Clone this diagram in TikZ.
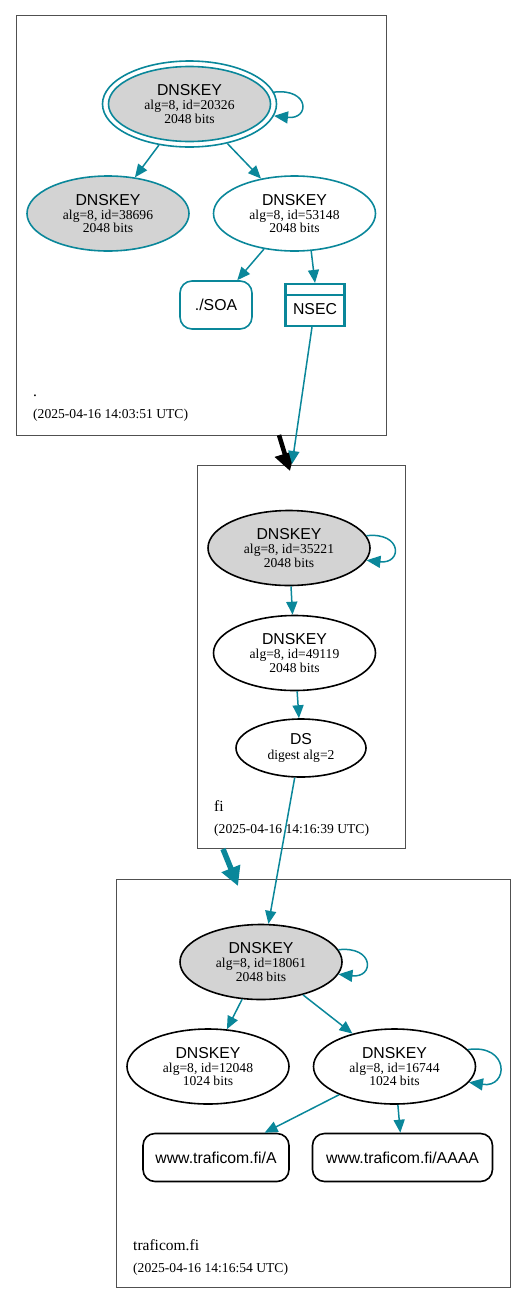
\documentclass[tikz,border=0pt]{standalone}
\usepackage{fontspec}
\setmainfont{Liberation Serif}
\setsansfont{Liberation Sans}
\usetikzlibrary{shapes.geometric,arrows.meta,calc}
\definecolor{sec}{HTML}{0A879A}
\definecolor{keyfill}{HTML}{D3D3D3}
\definecolor{clu}{HTML}{505050}
\newcommand{\dvmain}{\sffamily\fontsize{15.8}{13.4}\selectfont}
\newcommand{\dvsub}{\rmfamily\fontsize{13.6}{13.4}\selectfont}
\newcommand{\dvlab}{\rmfamily\fontsize{15.5}{16}\selectfont}
\begin{document}
\begin{tikzpicture}[x=1pt,y=-1pt,
  key/.style={ellipse, draw=sec, line width=1.6pt, minimum width=162pt, minimum height=75pt, inner sep=0pt, align=center, font=\dvsub},
  blackkey/.style={key, draw=black},
  rrbox/.style={rectangle, rounded corners=12pt, draw=sec, line width=1.6pt, minimum height=48pt, inner sep=0pt, font=\dvmain},
  cluster/.style={rectangle, draw=clu, line width=0.8pt, inner sep=0pt},
  e/.style={draw=sec, line width=1.5pt, -{Triangle[length=13pt,width=11pt]}},
  le/.style={draw=sec, line width=1.5pt, -{Triangle[length=14pt,width=12pt]}},
  clab/.style={anchor=base west, inner sep=0pt, font=\dvlab},
  ctime/.style={anchor=base west, inner sep=0pt, font=\dvsub}]
\useasboundingbox (0,0) rectangle (527,1304);
% clusters
\node[cluster, minimum width=370.5pt, minimum height=419.5pt] (c1) at (201.25,225.25) {};
\node[cluster, minimum width=207.5pt, minimum height=383.5pt] (c2) at (301.25,656.75) {};
\node[cluster, minimum width=394.5pt, minimum height=408pt] (c3) at (313.25,1083.5) {};
% cluster 1
\node[ellipse, draw=sec, line width=1.6pt, minimum width=174pt, minimum height=86pt, inner sep=0pt] (rooto) at (189.5,104) {};
\node[key, fill=keyfill] (root) at (189.5,104) {{\dvmain DNSKEY}\\[1pt]alg=8, id=20326\\2048 bits};
\node[key, fill=keyfill] (k38696) at (108,213.5) {{\dvmain DNSKEY}\\[1pt]alg=8, id=38696\\2048 bits};
\node[key] (k53148) at (294.5,213.5) {{\dvmain DNSKEY}\\[1pt]alg=8, id=53148\\2048 bits};
\node[rrbox, minimum width=72pt] (soa) at (216,305) {./SOA};
\node[rectangle, draw=sec, line width=2.2pt, minimum width=59pt, minimum height=42pt, inner sep=0pt, font=\dvmain] (nsec) at (315,305) {\raisebox{-9.5pt}[0pt][0pt]{NSEC}};
\draw[sec, line width=2.2pt] ($(nsec.north west)+(0,12)$) -- ($(nsec.north east)+(0,12)$);
\node[clab] (l1) at (33,396) {.};
\node[ctime] (t1) at (33,418) {(2025-04-16 14:03:51 UTC)};
\draw[e] (rooto) -- (k38696);
\draw[e] (rooto) -- (k53148);
\draw[le] (rooto.8) .. controls +(36,-4) and +(36,4) .. (rooto.-8);
\draw[e] (k53148) -- (soa);
\draw[e] (k53148.-66) -- (nsec.north);
% cluster 2
\node[blackkey, fill=keyfill] (k35221) at (289,548) {{\dvmain DNSKEY}\\[1pt]alg=8, id=35221\\2048 bits};
\node[blackkey] (k49119) at (294.5,653) {{\dvmain DNSKEY}\\[1pt]alg=8, id=49119\\2048 bits};
\node[blackkey, minimum width=130pt, minimum height=58pt] (ds) at (301,748) {{\dvmain DS}\\[1pt]digest alg=2};
\node[clab] (l2) at (214,811) {fi};
\node[ctime] (t2) at (214,833) {(2025-04-16 14:16:39 UTC)};
\draw[le] (k35221.9) .. controls +(36,-4) and +(36,4) .. (k35221.-9);
\draw[e] (k35221) -- (k49119);
\draw[e] (k49119) -- (ds);
% cluster 3
\node[blackkey, fill=keyfill] (k18061) at (261,962) {{\dvmain DNSKEY}\\[1pt]alg=8, id=18061\\2048 bits};
\node[blackkey] (k12048) at (208,1066.5) {{\dvmain DNSKEY}\\[1pt]alg=8, id=12048\\1024 bits};
\node[blackkey] (k16744) at (394.5,1066.5) {{\dvmain DNSKEY}\\[1pt]alg=8, id=16744\\1024 bits};
\node[rrbox, draw=black, minimum width=146pt] (wa) at (216,1157.5) {www.traficom.fi/A};
\node[rrbox, draw=black, minimum width=180pt] (waaaa) at (402.5,1157.5) {www.traficom.fi/AAAA};
\node[clab] (l3) at (133,1250) {traficom.fi};
\node[ctime] (t3) at (133,1272) {(2025-04-16 14:16:54 UTC)};
\draw[le] (k18061.9) .. controls +(36,-4) and +(36,4) .. (k18061.-9);
\draw[e] (k18061) -- (k12048);
\draw[e] (k18061) -- (k16744);
\draw[le] (k16744.13) .. controls +(42,-6) and +(40,6) .. (k16744.-12);
\draw[e] (k16744) -- (wa);
\draw[e] (k16744) -- (waaaa);
% inter-zone edges
\coordinate (b1) at (279,435);
\coordinate (b2) at (290,471);
\draw[black, line width=4.5pt, -{Triangle[length=18pt,width=20pt]}] (b1) -- (b2);
\coordinate (n2) at (292,464);
\draw[e] ($(nsec.south)+(-3,0)$) -- (n2);
\draw[e] (ds.-102) -- (k18061.79);
\coordinate (d1) at (223,849);
\coordinate (d2) at (238,886);
\draw[sec, line width=5.5pt, -{Triangle[length=19pt,width=19pt]}] (d1) -- (d2);
\end{tikzpicture}
\end{document}
